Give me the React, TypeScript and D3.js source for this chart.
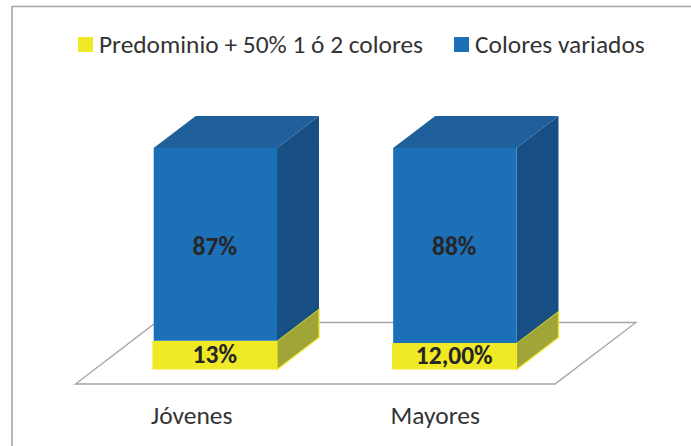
import React from "react";
import * as d3 from "d3";

const categories = ["Jóvenes", "Mayores"];
const bottomLabels = ["13%", "12,00%"];
const topLabels = ["87%", "88%"];
const bottomValues = [13, 12];
const topValues = [87, 88];
const seriesNames = ["Predominio + 50% 1 ó 2 colores", "Colores variados"];
const seriesColors = ["#efe926", "#1b70b8"];
const topShade = "#1f5f9c";
const sideShade = "#174f85";
const bottomSide = "#9fa537";
const font = "Carlito, Lato, 'Open Sans', sans-serif";

const W = 691;
const H = 446;

// Value axis of the front face: the stack rests on y=369.5 and reaches y=148 at 100%.
const y = d3.scaleLinear().domain([0, 100]).range([369.5, 148]);
const x = d3.scaleBand().domain(categories).range([152.5, 516.5]).paddingInner(0.48).paddingOuter(0);

// Oblique offset of the 3D extrusion.
const depthX = 42;
const depthY = -32;

const poly = (pts: [number, number][]) => d3.line()(pts) + "Z";

function box(x0: number, x1: number, yTop: number, yBottom: number) {
  return {
    front: poly([[x0, yTop], [x1, yTop], [x1, yBottom], [x0, yBottom]]),
    side: poly([[x1, yTop], [x1 + depthX, yTop + depthY], [x1 + depthX, yBottom + depthY], [x1, yBottom]]),
    top: poly([[x0, yTop], [x0 + depthX, yTop + depthY], [x1 + depthX, yTop + depthY], [x1, yTop]]),
  };
}

export default function App() {
  const barW = x.bandwidth();
  return (
    <svg width={W} height={H} style={{ position: "absolute", left: 0, top: 0, background: "#fff" }}>
      <path d="M12,448V6.5H691" fill="none" stroke="#a6a6a6" strokeWidth={1.6} />
      <path d="M75.5,384H555L636,322.5H156Z" fill="none" stroke="#a3a3a6" strokeWidth={1.3} />
      {categories.map((c, i) => {
        const xb = x(c) as number;
        const yMid = y(bottomValues[i]);
        const lower = box(xb, xb + barW, yMid, y(0));
        const upper = box(xb + 1.2, xb + barW, y(bottomValues[i] + topValues[i]), yMid);
        return (
          <g key={c}>
            <path d={lower.side} fill={bottomSide} stroke={seriesColors[0]} strokeWidth={1.2} />
            <path d={lower.front} fill={seriesColors[0]} />
            <path d={upper.side} fill={sideShade} />
            <path d={upper.top} fill={topShade} />
            <path d={upper.front} fill={seriesColors[1]} />
            <text x={xb + barW / 2} y={(yMid + y(0)) / 2 + 8} textAnchor="middle" fontFamily={font} fontSize={25.5} fontWeight={700} fill="#262626">{bottomLabels[i]}</text>
            <text x={xb + barW / 2} y={254.5} textAnchor="middle" fontFamily={font} fontSize={25.5} fontWeight={700} fill="#262626">{topLabels[i]}</text>
            <text x={xb - 1.5} y={424} fontFamily={font} fontSize={25.5} fill="#333">{c}</text>
          </g>
        );
      })}
      <rect x={78} y={37} width={15} height={15} fill={seriesColors[0]} />
      <text x={99} y={53} fontFamily={font} fontSize={25.4} fill="#333">{seriesNames[0]}</text>
      <rect x={454} y={37} width={15} height={15} fill={seriesColors[1]} />
      <text x={475} y={53} fontFamily={font} fontSize={25.4} fill="#333">{seriesNames[1]}</text>
    </svg>
  );
}
